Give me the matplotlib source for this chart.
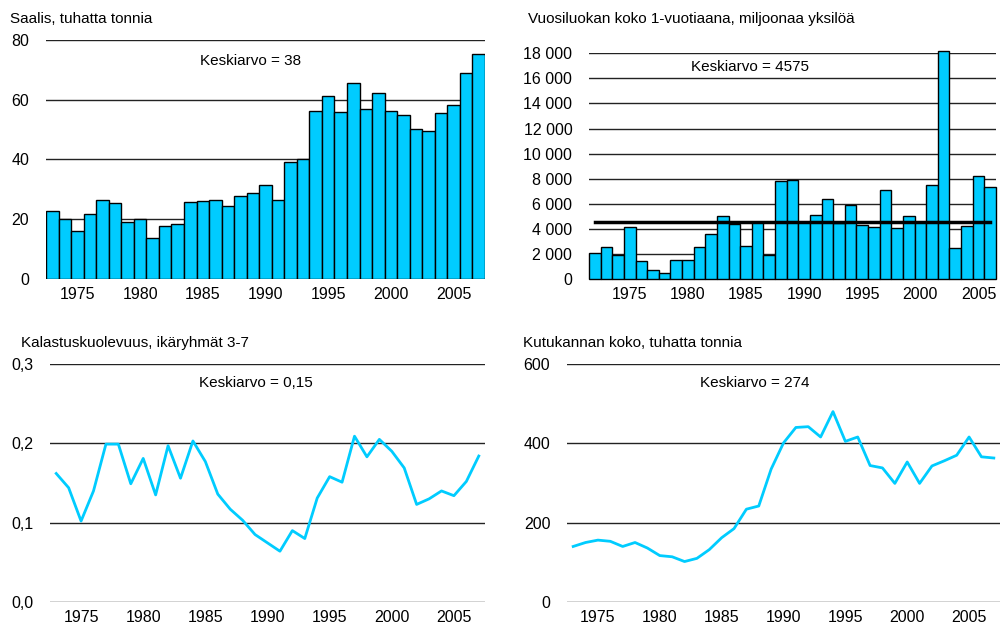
import matplotlib.pyplot as plt
import matplotlib
from matplotlib.ticker import FuncFormatter

matplotlib.rcParams['font.family'] = ['Liberation Sans', 'DejaVu Sans']
matplotlib.rcParams['font.size'] = 11

# --- data ---
saalis_years = list(range(1973, 2008))
saalis = [22.6, 20.2, 16.2, 21.9, 26.3, 25.3, 19.2, 20.2, 13.6, 17.9, 18.5, 25.8,
          26.1, 26.6, 24.6, 27.8, 28.8, 31.3, 26.3, 39.3, 40.2, 56.4, 61.2, 56.0,
          65.7, 57.0, 62.3, 56.4, 54.9, 50.3, 49.7, 55.5, 58.1, 68.8, 75.4]

vuosiluokka_years = list(range(1972, 2007))
vuosiluokka = [2070, 2550, 1880, 4110, 1410, 740, 480, 1490, 1490, 2550, 3610, 4990,
               4380, 2650, 4510, 1940, 7780, 7880, 4510, 5120, 6400, 4460, 5920, 4300,
               4110, 7090, 4060, 5020, 4510, 7490, 18180, 2440, 4250, 8180, 7300]
vuosiluokka_mean = 4575

kuolevuus_years = list(range(1973, 2008))
kuolevuus = [0.162, 0.144, 0.102, 0.140, 0.199, 0.199, 0.149, 0.181, 0.135, 0.197,
             0.156, 0.203, 0.177, 0.136, 0.117, 0.103, 0.085, 0.0745, 0.064, 0.090,
             0.080, 0.131, 0.158, 0.151, 0.209, 0.183, 0.205, 0.190, 0.169, 0.123,
             0.130, 0.140, 0.134, 0.152, 0.184]

kutukanta_years = list(range(1973, 2008))
kutukanta = [140, 150, 156, 153, 140, 150, 136, 117, 114, 102, 110, 132, 162, 185,
             234, 242, 335, 401, 440, 442, 416, 480, 405, 416, 344, 338, 299, 353,
             299, 343, 356, 370, 416, 366, 363]

xticks = [1975, 1980, 1985, 1990, 1995, 2000, 2005]

BLUE = '#00CCFF'
W, H = 1000, 635


def box(l, t, r, b):
    return [l / W, (H - b) / H, (r - l) / W, (b - t) / H]


def style(ax, yticks):
    for s in ['top', 'right', 'left', 'bottom']:
        ax.spines[s].set_visible(False)
    ax.set_yticks(yticks)
    for y in yticks:
        ax.axhline(y, color='#222222', lw=1, zorder=1)
    ax.set_xticks(xticks)
    ax.tick_params(axis='y', length=0, pad=12, labelsize=11.5)
    ax.tick_params(axis='x', length=0, pad=6, labelsize=11.5)


fig = plt.figure(figsize=(10, 6.35), dpi=100)

# top left: catch
ax1 = fig.add_axes(box(46, 40, 485, 279))
ax1.bar(saalis_years, saalis, width=1, color=BLUE, edgecolor='black', lw=1, zorder=2)
ax1.set_xlim(1972.5, 2007.5)
ax1.set_ylim(0, 80)
style(ax1, [0, 20, 40, 60, 80])
fig.text(10 / W, 1 - 19 / H, 'Saalis, tuhatta tonnia', ha='left', va='center', fontsize=11)
fig.text(251 / W, 1 - 61 / H, 'Keskiarvo = 38', ha='center', va='center', fontsize=11)

# top right: year class size
ax2 = fig.add_axes(box(589, 53.3, 996, 279))
ax2.bar(vuosiluokka_years, vuosiluokka, width=1, color=BLUE, edgecolor='black', lw=1,
        zorder=2, clip_on=False)
ax2.plot([vuosiluokka_years[0], vuosiluokka_years[-1]], [vuosiluokka_mean] * 2,
         color='black', lw=2.5, zorder=3)
ax2.set_xlim(1971.5, 2006.5)
ax2.set_ylim(0, 18000)
style(ax2, list(range(0, 18001, 2000)))
ax2.yaxis.set_major_formatter(FuncFormatter(lambda v, p: '{:,.0f}'.format(v).replace(',', ' ')))
fig.text(528 / W, 1 - 19 / H, 'Vuosiluokan koko 1-vuotiaana, miljoonaa yksilöä',
         ha='left', va='center', fontsize=11)
fig.text(750 / W, 1 - 67 / H, 'Keskiarvo = 4575', ha='center', va='center', fontsize=11)

# bottom left: fishing mortality
ax3 = fig.add_axes(box(50, 364, 485, 602))
ax3.plot(kuolevuus_years, kuolevuus, color=BLUE, lw=2, zorder=3)
ax3.set_xlim(1972.5, 2007.5)
ax3.set_ylim(0, 0.3)
style(ax3, [0, 0.1, 0.2, 0.3])
ax3.yaxis.set_major_formatter(FuncFormatter(lambda v, p: '{:.1f}'.format(v).replace('.', ',')))
fig.text(21 / W, 1 - 343 / H, 'Kalastuskuolevuus, ikäryhmät 3-7', ha='left', va='center',
         fontsize=11)
fig.text(256 / W, 1 - 383 / H, 'Keskiarvo = 0,15', ha='center', va='center', fontsize=11)

# bottom right: spawning stock
ax4 = fig.add_axes(box(567, 364, 1000, 602))
ax4.plot(kutukanta_years, kutukanta, color=BLUE, lw=2, zorder=3)
ax4.set_xlim(1972.5, 2007.5)
ax4.set_ylim(0, 600)
style(ax4, [0, 200, 400, 600])
fig.text(523 / W, 1 - 343 / H, 'Kutukannan koko, tuhatta tonnia', ha='left', va='center',
         fontsize=11)
fig.text(755 / W, 1 - 383 / H, 'Keskiarvo = 274', ha='center', va='center', fontsize=11)

fig.savefig('out.png', dpi=100)
